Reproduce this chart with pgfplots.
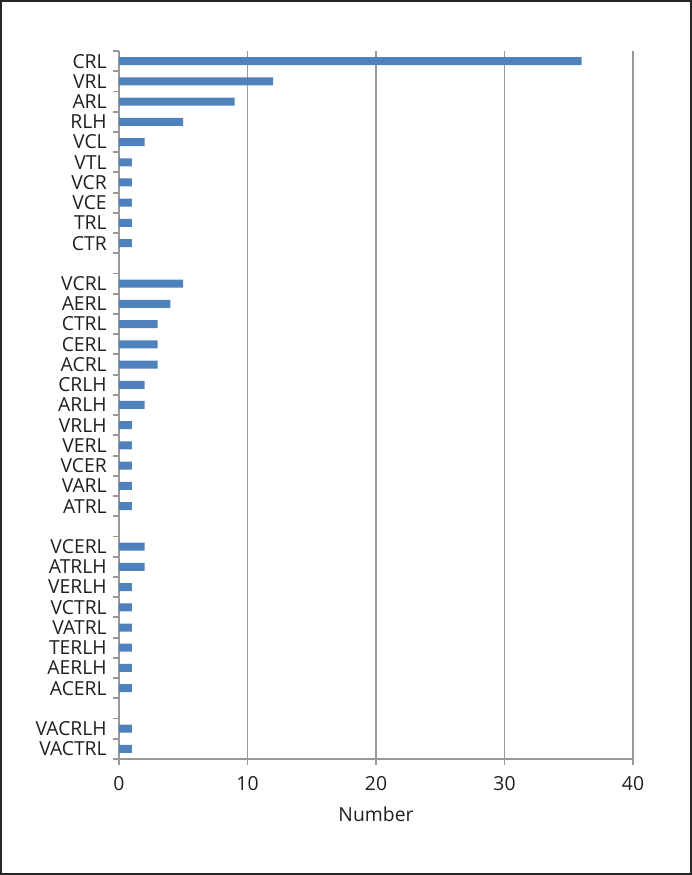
\documentclass[border=0pt]{standalone}
\usepackage{pgfplots}
\pgfplotsset{compat=1.18}
\usepackage{fontspec}
\setmainfont{Open Sans}
\definecolor{barblue}{RGB}{79,129,189}
\definecolor{axgray}{RGB}{152,152,152}
\definecolor{txt}{RGB}{35,31,32}
\begin{document}
\begin{tikzpicture}[x=1pt,y=1pt]
% frame of the figure (1px = 0.75pt)
\useasboundingbox (-89.25,-87) rectangle (429.75,569.25);
\draw[line width=1.5pt,black!85] (-88.5,-86.25) rectangle (429,568.5);
\begin{axis}[
  at={(0,0)}, anchor=south west,
  scale only axis,
  width=385.5pt, height=531pt,
  xbar, bar width=6pt, bar shift=0pt,
  xmin=0, xmax=40,
  ymin=-0.5, ymax=34.5,
  xtick={0,10,20,30,40},
  minor xtick={0,10,20,30,40},
  ytick={34,33,32,31,30,29,28,27,26,25,23,22,21,20,19,18,17,16,15,14,13,12,10,9,8,7,6,5,4,3,1,0},
  yticklabels={CRL,VRL,ARL,RLH,VCL,VTL,VCR,VCE,TRL,CTR,VCRL,AERL,CTRL,CERL,ACRL,CRLH,ARLH,VRLH,VERL,VCER,VARL,ATRL,VCERL,ATRLH,VERLH,VCTRL,VATRL,TERLH,AERLH,ACERL,VACRLH,VACTRL},
  minor ytick={-0.5,0.5,...,34.5},
  major tick length=0pt,
  minor tick length=4.5pt,
  tick align=outside,
  xtick pos=bottom, ytick pos=left,
  axis x line*=bottom, axis y line*=left,
  axis line style={axgray, line width=1.4pt, -},
  every tick/.style={axgray, line width=1.4pt},
  xmajorgrids,
  major grid style={axgray, line width=1.4pt},
  tick label style={font=\fontsize{14.5}{17}\selectfont, text=txt},
  yticklabel style={inner sep=0pt, xshift=-9pt},
  xticklabel style={inner sep=0pt, yshift=-13pt},
  xlabel={Number},
  xlabel style={font=\fontsize{14.5}{17}\selectfont, text=txt, inner sep=0pt, yshift=-12pt},
  /pgf/number format/assume math mode=true,
  clip=false,
]
\addplot[fill=barblue, draw=none] coordinates {
(36,34) (12,33) (9,32) (5,31) (2,30) (1,29) (1,28) (1,27) (1,26) (1,25)
(5,23) (4,22) (3,21) (3,20) (3,19) (2,18) (2,17) (1,16) (1,15) (1,14) (1,13) (1,12)
(2,10) (2,9) (1,8) (1,7) (1,6) (1,5) (1,4) (1,3)
(1,1) (1,0)
};
\end{axis}
\end{tikzpicture}
\end{document}
